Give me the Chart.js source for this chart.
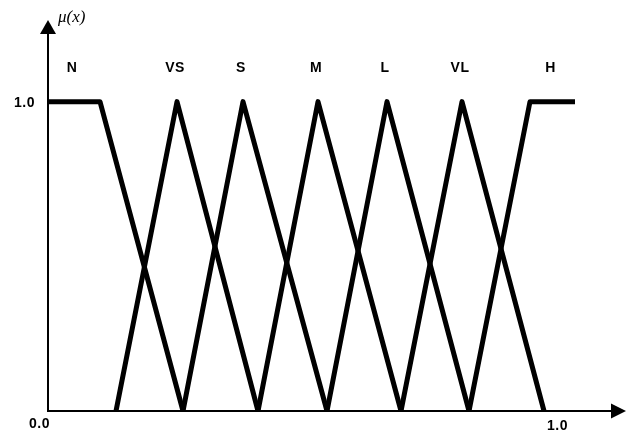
<!DOCTYPE html>
<html>
<head>
<meta charset="utf-8">
<title>Membership functions</title>
<script src="https://cdn.jsdelivr.net/npm/chart.js@4"></script>
<style>
  html, body { margin: 0; padding: 0; background: #fff; }
  #wrap { width: 628px; height: 434px; }
</style>
</head>
<body>
<div id="wrap"><canvas id="mfChart" width="628" height="434"></canvas></div>
<script>
// Fuzzy set names and their breakpoints (x, membership)
const setNames = ['N', 'VS', 'S', 'M', 'L', 'VL', 'H'];
const setX = [
    [0, 0.104, 0.27],
    [0.136, 0.258, 0.42],
    [0.27, 0.39, 0.558],
    [0.42, 0.54, 0.706],
    [0.558, 0.678, 0.842],
    [0.706, 0.828, 0.992],
    [0.842, 0.964, 1.054]
];
const setMu = [
    [1, 1, 0],
    [0, 1, 0],
    [0, 1, 0],
    [0, 1, 0],
    [0, 1, 0],
    [0, 1, 0],
    [0, 1, 1]
];

// Axis tick labels
const xTickValues = [0, 1];
const xTickLabels = ['0.0', '1.0'];
const yTickValues = [1];
const yTickLabels = ['1.0'];
const yAxisTitle = 'μ(x)';

const datasets = setNames.map((name, i) => ({
    label: name,
    data: setX[i].map((x, j) => ({ x: x, y: setMu[i][j] })),
    showLine: true,
    borderColor: '#000',
    borderWidth: 5,
    borderJoinStyle: 'round',
    borderCapStyle: 'butt',
    pointRadius: 0,
    fill: false,
    clip: false
}));

// Draws arrowed axes, tick labels and set names using the chart scales
const axesPlugin = {
    id: 'axesPlugin',
    afterDatasetsDraw(chart) {
        const ctx = chart.ctx;
        const xs = chart.scales.x;
        const ys = chart.scales.y;
        const area = chart.chartArea;
        const x0 = xs.getPixelForValue(0);
        const y0 = ys.getPixelForValue(0);

        ctx.save();
        ctx.strokeStyle = '#000';
        ctx.fillStyle = '#000';
        ctx.lineWidth = 2;

        // y axis
        ctx.beginPath();
        ctx.moveTo(x0, y0 + 1);
        ctx.lineTo(x0, area.top + 12);
        ctx.stroke();
        ctx.beginPath();
        ctx.moveTo(x0, area.top + 5);
        ctx.lineTo(x0 - 8, area.top + 19);
        ctx.lineTo(x0 + 8, area.top + 19);
        ctx.closePath();
        ctx.fill();

        // x axis
        ctx.beginPath();
        ctx.moveTo(x0 - 1, y0);
        ctx.lineTo(area.right - 10, y0);
        ctx.stroke();
        ctx.beginPath();
        ctx.moveTo(area.right - 2, y0);
        ctx.lineTo(area.right - 17, y0 - 7.5);
        ctx.lineTo(area.right - 17, y0 + 7.5);
        ctx.closePath();
        ctx.fill();

        // tick labels
        ctx.font = 'bold 14px "Liberation Sans", Arial, sans-serif';
        ctx.letterSpacing = '0.5px';
        ctx.textBaseline = 'middle';
        xTickValues.forEach((v, i) => {
            const px = xs.getPixelForValue(v);
            ctx.textAlign = i === 0 ? 'right' : 'left';
            ctx.fillText(xTickLabels[i], i === 0 ? px + 2 : px - 1, y0 + (i === 0 ? 13 : 15));
        });
        yTickValues.forEach((v, i) => {
            ctx.textAlign = 'right';
            ctx.fillText(yTickLabels[i], x0 - 13, ys.getPixelForValue(v) + 1.5);
        });

        // set names above the top of each function
        ctx.textAlign = 'center';
        setNames.forEach((name, i) => {
            const tops = setX[i].filter((x, j) => setMu[i][j] === 1);
            const cx = tops.reduce((a, b) => a + b, 0) / tops.length;
            ctx.fillText(name, xs.getPixelForValue(cx) - 2, ys.getPixelForValue(1) - 33);
        });

        // y axis title
        ctx.letterSpacing = '0px';
        ctx.font = 'italic 17px "Liberation Serif", "Times New Roman", serif';
        ctx.textAlign = 'left';
        ctx.fillText(yAxisTitle, x0 + 10, area.top + 3);
        ctx.restore();
    }
};

new Chart(document.getElementById('mfChart').getContext('2d'), {
    type: 'scatter',
    data: { datasets: datasets },
    options: {
        responsive: false,
        animation: false,
        layout: {
            padding: { left: 48, right: 0, top: 15, bottom: 23 }
        },
        plugins: {
            legend: { display: false },
            tooltip: { enabled: false }
        },
        scales: {
            x: { type: 'linear', min: 0, max: 1.16, display: false },
            y: { type: 'linear', min: 0, max: 1.28, display: false }
        }
    },
    plugins: [axesPlugin]
});
</script>
</body>
</html>
